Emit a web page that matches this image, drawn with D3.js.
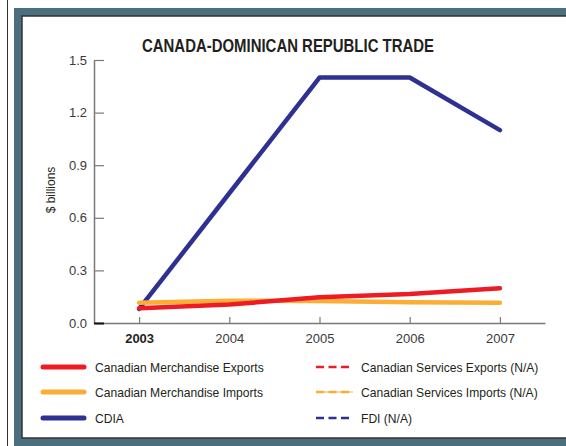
<!DOCTYPE html>
<html>
<head>
<meta charset="utf-8">
<script src="https://cdn.jsdelivr.net/npm/d3@7"></script>
<style>
  body { margin: 0; background: #fff; }
  text { font-family: "Liberation Sans", Arial, sans-serif; fill: #231f20; }
</style>
</head>
<body>
<div class="canvas"></div>
<script>
// data
const years = [2003, 2004, 2005, 2006, 2007];
const merchExports = [0.084, 0.105, 0.147, 0.165, 0.198];
const merchImports = [0.116, 0.127, 0.125, 0.118, 0.116];
const cdia = [0.08, 0.74, 1.4, 1.4, 1.1];
const yTicks = [0, 0.3, 0.6, 0.9, 1.2, 1.5];

const seriesNames = ['Canadian Merchandise Exports', 'Canadian Merchandise Imports', 'CDIA'];
const naNames = ['Canadian Services Exports (N/A)', 'Canadian Services Imports (N/A)', 'FDI (N/A)'];
const colours = ['#ed1c24', '#fbad36', '#2e3192'];

const svg = d3.select('.canvas')
	.append('svg')
	.attr('width', 566)
	.attr('height', 446);

// sabija tekst vodoravno (condensed font)
const squeeze = (sel, f) => sel.each(function () {
	const len = this.getComputedTextLength();
	d3.select(this).attr('textLength', len * f).attr('lengthAdjust', 'spacingAndGlyphs');
});

// okvir
svg.append('line')
	.attr('x1', 7.5).attr('x2', 7.5)
	.attr('y1', 0).attr('y2', 446)
	.attr('stroke', '#333').attr('stroke-width', 1);
svg.append('rect')
	.attr('x', 14).attr('y', 8)
	.attr('width', 560).attr('height', 446)
	.attr('fill', '#4c6f80');
svg.append('rect')
	.attr('x', 22).attr('y', 16)
	.attr('width', 560).attr('height', 422)
	.attr('fill', '#fff')
	.attr('stroke', '#333').attr('stroke-width', 1.5);

// naslov
svg.append('text')
	.attr('x', 288).attr('y', 52)
	.attr('text-anchor', 'middle')
	.attr('textLength', 292)
	.attr('lengthAdjust', 'spacingAndGlyphs')
	.style('font-weight', 'bold')
	.style('font-size', '18px')
	.text('CANADA-DOMINICAN REPUBLIC TRADE');

// skale
const x = d3.scaleLinear().domain([2002.5, 2007.5]).range([94, 545]);
const y = d3.scaleLinear().domain([0, 1.5]).range([323, 60]);

const xAxis = d3.axisBottom(x)
	.tickValues(years)
	.tickFormat(d3.format('d'))
	.tickSize(-6)
	.tickSizeOuter(0)
	.tickPadding(11);
const yAxis = d3.axisLeft(y)
	.tickValues(yTicks)
	.tickFormat(d3.format('.1f'))
	.tickSize(-10)
	.tickSizeOuter(0)
	.tickPadding(7);

const xAxisGroup = svg.append('g').attr('transform', 'translate(0, 323)').call(xAxis);
const yAxisGroup = svg.append('g').attr('transform', 'translate(94, 0)').call(yAxis);

[xAxisGroup, yAxisGroup].forEach(g => {
	g.select('.domain').attr('stroke', '#7a7a7a').attr('stroke-width', 1.5);
	g.selectAll('.tick line').attr('stroke', '#7a7a7a').attr('stroke-width', 1.2);
	g.selectAll('text')
		.style('font-family', '"Liberation Sans", Arial, sans-serif')
		.style('font-size', '13px')
		.style('fill', '#3a3a3a');
});
yAxisGroup.selectAll('.tick').filter(d => d === 0).select('line')
	.attr('stroke', '#111').attr('stroke-width', 2);
xAxisGroup.selectAll('.tick').filter(d => d === 2003).select('text')
	.style('font-weight', 'bold').style('fill', '#231f20');

const yLabel = svg.append('text')
	.attr('transform', 'translate(55, 190) rotate(-90)')
	.attr('text-anchor', 'middle')
	.style('font-size', '13px')
	.text('$ billions');
squeeze(yLabel, 0.92);

// linije
const line = d3.line()
	.x((d, i) => x(years[i]))
	.y(d => y(d));

const drawOrder = [2, 1, 0];
const allSeries = [merchExports, merchImports, cdia];
drawOrder.forEach(k => {
	svg.append('path')
		.datum(allSeries[k])
		.attr('d', line)
		.attr('fill', 'none')
		.attr('stroke', colours[k])
		.attr('stroke-width', 4.5)
		.attr('stroke-linejoin', 'round')
		.attr('stroke-linecap', 'round');
});

// legenda
const rowY = [367, 392, 418];
const legend = svg.append('g');

seriesNames.forEach((name, i) => {
	legend.append('line')
		.attr('x1', 43).attr('x2', 84)
		.attr('y1', rowY[i]).attr('y2', rowY[i])
		.attr('stroke', colours[i])
		.attr('stroke-width', 5)
		.attr('stroke-linecap', 'round');
	legend.append('text')
		.attr('x', 95).attr('y', rowY[i])
		.attr('dy', '0.35em')
		.style('font-size', '13px')
		.text(name);
});

naNames.forEach((name, i) => {
	if (i === 1) {
		legend.append('line')
			.attr('x1', 316).attr('x2', 353)
			.attr('y1', rowY[i]).attr('y2', rowY[i])
			.attr('stroke', colours[i])
			.attr('stroke-width', 1);
	}
	legend.append('line')
		.attr('x1', 316).attr('x2', 349)
		.attr('y1', rowY[i]).attr('y2', rowY[i])
		.attr('stroke', colours[i])
		.attr('stroke-width', 2.5)
		.attr('stroke-dasharray', '8,4.5');
	legend.append('text')
		.attr('x', 361).attr('y', rowY[i])
		.attr('dy', '0.35em')
		.style('font-size', '13px')
		.text(name);
});
squeeze(legend.selectAll('text'), 0.93);
</script>
</body>
</html>
